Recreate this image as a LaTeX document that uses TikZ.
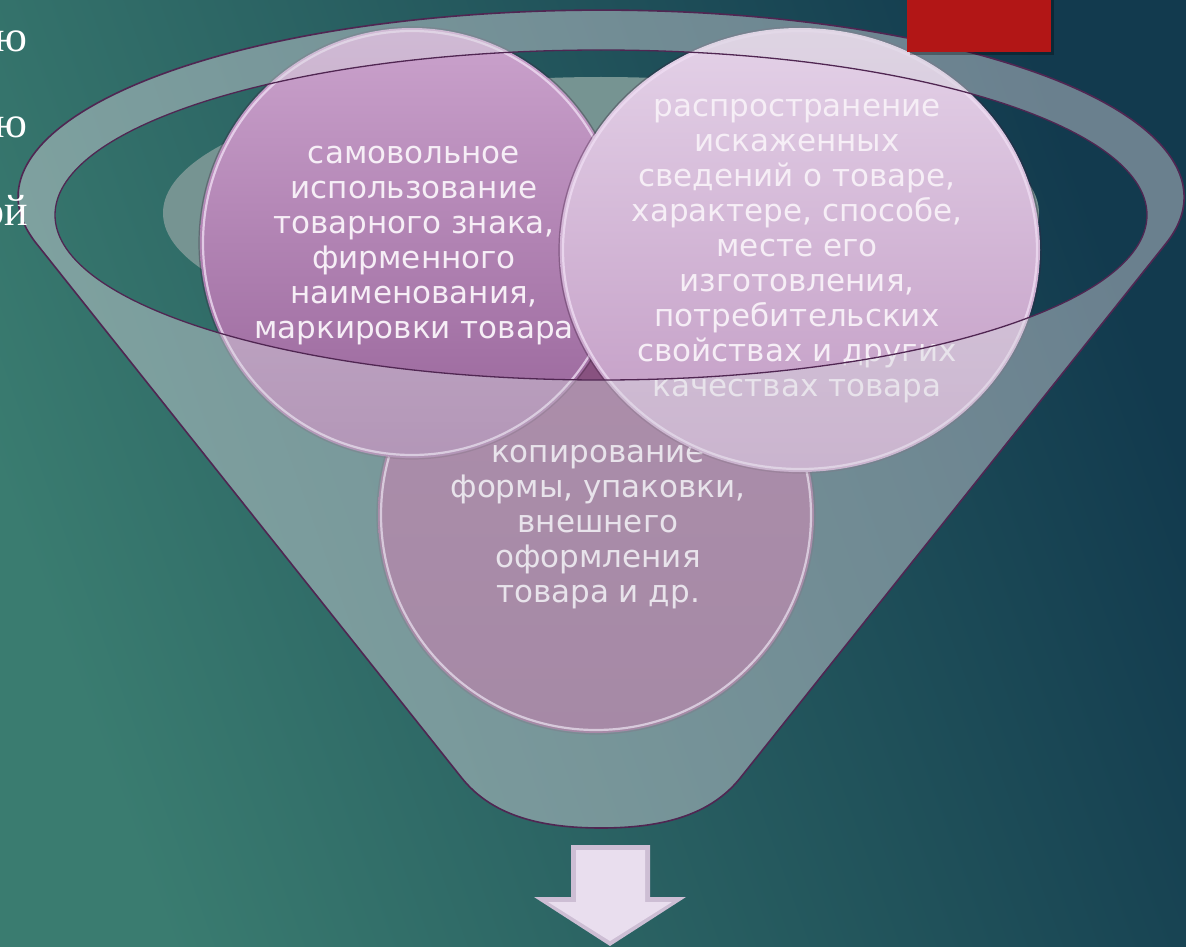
\documentclass[tikz,border=0pt]{standalone}
\usepackage{fontspec}
\setmainfont{DejaVu Sans}
\newfontfamily\serifru{Liberation Serif}
\definecolor{bgL}{RGB}{58,124,112}
\definecolor{bgR}{RGB}{18,58,78}
\definecolor{backwall}{RGB}{118,148,146}
\definecolor{overlay}{RGB}{215,215,222}
\definecolor{edge}{RGB}{80,38,82}
\definecolor{lcTop}{RGB}{203,163,205}
\definecolor{lcBot}{RGB}{150,98,152}
\definecolor{rcTop}{RGB}{228,210,232}
\definecolor{rcBot}{RGB}{192,152,194}
\definecolor{bcTop}{RGB}{138,84,130}
\definecolor{bcBot}{RGB}{126,74,120}
\definecolor{gloss}{RGB}{238,220,242}
\definecolor{shadowc}{RGB}{60,30,60}
\definecolor{redbox}{RGB}{178,22,22}
\definecolor{arrowfill}{RGB}{233,222,238}
\definecolor{arrowedge}{RGB}{205,190,212}
\definecolor{txt}{RGB}{246,238,246}
\tikzset{
  circtext/.style={align=center, text=txt, font=\fontsize{31}{35}\selectfont, inner sep=0pt},
  ringedge/.style={draw=gloss, line width=2.2pt, opacity=0.8},
  ringshadow/.style={draw=shadowc, line width=1.2pt, opacity=0.35},
  funnelfill/.style={fill=overlay, fill opacity=0.45},
  funneledge/.style={draw=edge, line width=1.6pt},
  sidetext/.style={text=white, font=\serifru\fontsize{44}{44}\selectfont, inner sep=0pt, anchor=base east}
}
\begin{document}
\begin{tikzpicture}[x=1pt,y=-1pt]
\useasboundingbox (0,0) rectangle (1186,947);
\begin{scope}
\clip (0,0) rectangle (1186,947);
% background
\shade[top color=bgR, bottom color=bgL, shading angle=-70] (0,0) rectangle (1186,947);
% back wall of the funnel opening
\fill[backwall] (601,213) ellipse [x radius=438pt, y radius=136pt];
% bottom circle
\shade[top color=bcTop, bottom color=bcBot] (596,515) ellipse [x radius=218pt, y radius=218pt];
\draw[ringshadow] (596,515) ellipse [x radius=219pt, y radius=219pt];
\draw[ringedge] (596,515) ellipse [x radius=215pt, y radius=215pt];
\node[circtext] (t3) at (598,527) {копирование\\формы, упаковки,\\внешнего\\оформления\\товара и др.};
% left circle
\shade[top color=lcTop, bottom color=lcBot] (412,243) ellipse [x radius=212pt, y radius=215pt];
\draw[ringshadow] (412,243) ellipse [x radius=213pt, y radius=216pt];
\draw[ringedge] (412,243) ellipse [x radius=209pt, y radius=212pt];
\node[circtext] (t1) at (414,246) {самовольное\\использование\\товарного знака,\\фирменного\\наименования,\\маркировки товара};
% right circle
\shade[top color=rcTop, bottom color=rcBot] (800,250) ellipse [x radius=240pt, y radius=222pt];
\draw[ringshadow] (800,250) ellipse [x radius=241pt, y radius=223pt];
\draw[ringedge] (800,250) ellipse [x radius=237pt, y radius=219pt];
\node[circtext] (t2) at (797,251) {распространение\\искаженных\\сведений о товаре,\\характере, способе,\\месте его\\изготовления,\\потребительских\\свойствах и других\\качествах товара};
% funnel front (rim + body), semi transparent
\path[funnelfill, even odd rule]
  (36,243) arc[start angle=194.2, end angle=-14.2, x radius=583pt, y radius=187pt]
  -- (741,777) .. controls (712,814) and (665,828) .. (601,828)
  .. controls (537,828) and (490,814) .. (461,777) -- cycle
  (601,215) ellipse [x radius=546pt, y radius=165pt];
\draw[funneledge]
  (36,243) arc[start angle=194.2, end angle=-14.2, x radius=583pt, y radius=187pt]
  -- (741,777) .. controls (712,814) and (665,828) .. (601,828)
  .. controls (537,828) and (490,814) .. (461,777) -- cycle;
\draw[funneledge, line width=1.3pt] (601,215) ellipse [x radius=546pt, y radius=165pt];
% red box
\fill[black, opacity=0.3] (910,0) rectangle (1054,55);
\fill[redbox] (907,0) rectangle (1051,52);
% arrow
\fill[arrowedge] (571,845) -- (650,845) -- (650,897) -- (686,897) -- (610,946) -- (534,897) -- (571,897) -- cycle;
\fill[arrowfill] (576,850) -- (645,850) -- (645,902) -- (672,902) -- (610,941) -- (548,902) -- (576,902) -- cycle;
% cut-off text at the left edge
\node[sidetext] (s1) at (28,52) {ю};
\node[sidetext] (s2) at (28,138) {ю};
\node[sidetext] (s3) at (28,225) {ой};
\end{scope}
\end{tikzpicture}
\end{document}
